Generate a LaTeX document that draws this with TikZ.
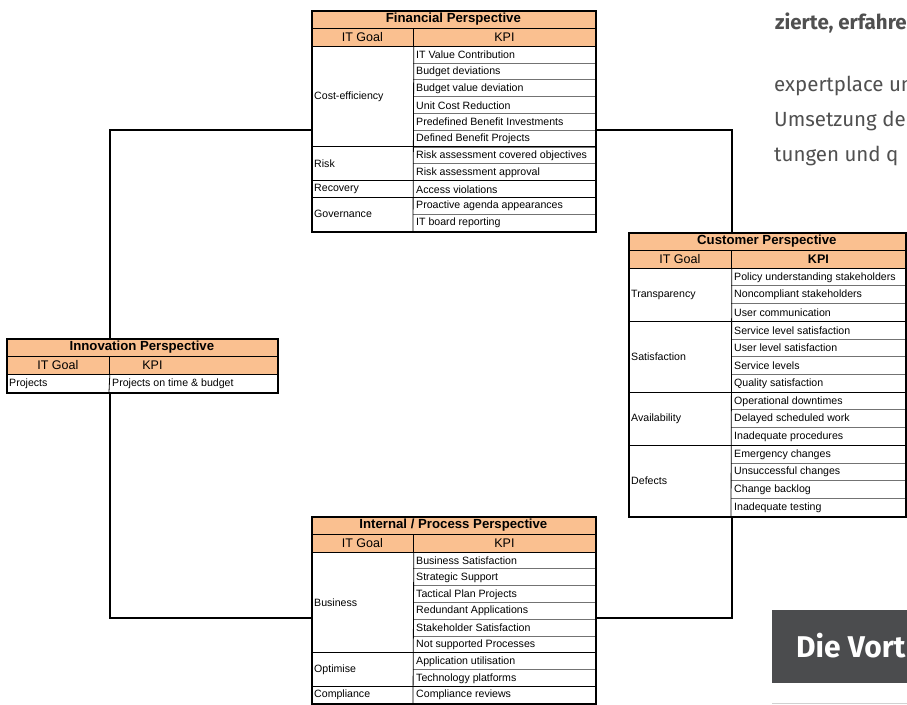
\documentclass[tikz,border=0pt]{standalone}
\usepackage{fontspec}
\setmainfont{Liberation Sans}
\newfontfamily\webfont{Fira Sans}

\definecolor{hdrorange}{RGB}{250,192,144}
\definecolor{webgray}{RGB}{80,80,80}
\definecolor{btngray}{RGB}{75,76,78}

\tikzset{
  frame/.style={draw, line width=1.6pt, inner sep=0pt, anchor=north west},
  ttlcell/.style={fill=hdrorange, draw, line width=0.8pt, inner sep=0pt, anchor=north west,
    minimum height=18pt, font=\fontsize{13.2}{15}\selectfont\bfseries},
  hdcell/.style={ttlcell, font=\fontsize{12.5}{15}\selectfont},
  kpi/.style={anchor=west, inner sep=3pt, font=\fontsize{10.6}{12}\selectfont},
  rowline/.style={black!55, line width=0.6pt},
  grpline/.style={black, line width=0.8pt},
  link/.style={line width=1.6pt},
  webtxt/.style={anchor=base west, inner sep=0pt, text=webgray, font=\webfont\fontsize{20.5}{24}\selectfont},
}

\begin{document}
\begin{tikzpicture}[x=1pt,y=-1pt]
\useasboundingbox (0,0) rectangle (907,704);
\fill[white] (0,0) rectangle (907,704);

%financial perspective
\node[ttlcell, minimum width=284pt] (finT) at (311,10) {Financial Perspective};
\node[hdcell, minimum width=102pt] (finG) at (311,28) {IT Goal};
\node[hdcell, minimum width=182pt] (finK) at (413,28) {KPI};
\foreach \t [count=\i] in {IT Value Contribution,Budget deviations,Budget value deviation,Unit Cost Reduction,Predefined Benefit Investments,Defined Benefit Projects,Risk assessment covered objectives,Risk assessment approval,Access violations,Proactive agenda appearances,IT board reporting}
  \node[kpi] (finkpi\i) at (413,{46.5+(\i-0.5)*16.8}) {\t};
\foreach \i in {1,...,10}
  \draw[rowline] (413,{46+\i*16.8}) -- (595,{46+\i*16.8});
\foreach \i in {6,8,9}
  \draw[grpline] (311,{46+\i*16.8}) -- (595,{46+\i*16.8});
\node[kpi] (fingoal1) at (311,{46+3*16.8}) {Cost-efficiency};
\node[kpi] (fingoal2) at (311,{46+7*16.8}) {Risk};
\node[kpi] (fingoal3) at (311,{46.5+8.5*16.8}) {Recovery};
\node[kpi] (fingoal4) at (311,{46+10*16.8}) {Governance};
\draw[grpline] (finG.south east) -- (413,231);
\node[frame, minimum width=284pt, minimum height=221pt] (fin) at (311,10) {};

%customer perspective
\node[ttlcell, minimum width=277pt] (cusT) at (628,232) {Customer Perspective};
\node[hdcell, minimum width=103pt] (cusG) at (628,250) {IT Goal};
\node[hdcell, minimum width=174pt, font=\fontsize{12.5}{15}\selectfont\bfseries] (cusK) at (731,250) {KPI};
\foreach \t [count=\i] in {Policy understanding stakeholders,Noncompliant stakeholders,User communication,Service level satisfaction,User level satisfaction,Service levels,Quality satisfaction,Operational downtimes,Delayed scheduled work,Inadequate procedures,Emergency changes,Unsuccessful changes,Change backlog,Inadequate testing}
  \node[kpi] (cuskpi\i) at (731,{268.5+(\i-0.5)*17.71}) {\t};
\foreach \i in {1,...,13}
  \draw[rowline] (731,{268+\i*17.71}) -- (905,{268+\i*17.71});
\foreach \i in {3,7,10}
  \draw[grpline] (628,{268+\i*17.71}) -- (905,{268+\i*17.71});
\node[kpi] (cusgoal1) at (628,{268+1.5*17.71}) {Transparency};
\node[kpi] (cusgoal2) at (628,{268+5*17.71}) {Satisfaction};
\node[kpi] (cusgoal3) at (628,{268+8.5*17.71}) {Availability};
\node[kpi] (cusgoal4) at (628,{268+12*17.71}) {Defects};
\draw[grpline] (cusG.south east) -- (731,516);
\node[frame, minimum width=277pt, minimum height=284pt] (cus) at (628,232) {};

%innovation perspective
\node[ttlcell, minimum width=271pt] (innoT) at (6,338) {Innovation Perspective};
\node[hdcell, minimum width=103pt] (innoG) at (6,356) {IT Goal};
\node[hdcell, minimum width=168pt] (innoK) at (109,356) {KPI\hspace*{82pt}};
\node[kpi] (innogoal1) at (6,383.5) {Projects};
\node[kpi] (innokpi1) at (109,383.5) {Projects on time \& budget};
\draw[grpline] (innoG.south east) -- (109,392);
\node[frame, minimum width=271pt, minimum height=54pt] (inno) at (6,338) {};

%internal / process perspective
\node[ttlcell, minimum width=284pt] (intT) at (311,516) {Internal / Process Perspective};
\node[hdcell, minimum width=102pt] (intG) at (311,534) {IT Goal};
\node[hdcell, minimum width=182pt] (intK) at (413,534) {KPI};
\foreach \t [count=\i] in {Business Satisfaction,Strategic Support,Tactical Plan Projects,Redundant Applications,Stakeholder Satisfaction,Not supported Processes,Application utilisation,Technology platforms,Compliance reviews}
  \node[kpi] (intkpi\i) at (413,{552.5+(\i-0.5)*16.78}) {\t};
\foreach \i in {1,...,8}
  \draw[rowline] (413,{552+\i*16.78}) -- (595,{552+\i*16.78});
\foreach \i in {6,8}
  \draw[grpline] (311,{552+\i*16.78}) -- (595,{552+\i*16.78});
\node[kpi] (intgoal1) at (311,{552+3*16.78}) {Business};
\node[kpi] (intgoal2) at (311,{552+7*16.78}) {Optimise};
\node[kpi] (intgoal3) at (311,{552.5+8.5*16.78}) {Compliance};
\draw[grpline] (intG.south east) -- (413,703);
\node[frame, minimum width=284pt, minimum height=187pt] (int) at (311,516) {};

%verbindungen
\coordinate (finLeft) at (311,130);
\coordinate (finRight) at (595,130);
\coordinate (intLeft) at (311,618);
\coordinate (intRight) at (595,618);
\draw[link] (finLeft) -| (inno.north -| innoG.east);
\draw[link] (finRight) -| (cus.north -| cusG.east);
\draw[link] (inno.south -| innoG.east) |- (intLeft);
\draw[link] (cus.south -| cusG.east) |- (intRight);

%webseite
\begin{scope}
  \clip (0,0) rectangle (907,704);
  \node[webtxt, font=\webfont\fontsize{20.5}{24}\selectfont\bfseries] (web1) at (775,29) {zierte, erfahre};
  \node[webtxt] (web2) at (774,91) {expertplace un};
  \node[webtxt] (web3) at (774,126) {Umsetzung de};
  \node[webtxt] (web4) at (774,161) {tungen und q};
  \fill[btngray] (772,610) rectangle (907,683);
  \node[webtxt, text=white, font=\webfont\fontsize{30}{34}\selectfont\bfseries] (web5) at (796,657) {Die Vort};
  \draw[black!18, line width=1pt] (772,703) -- (907,703);
\end{scope}
\end{tikzpicture}
\end{document}
